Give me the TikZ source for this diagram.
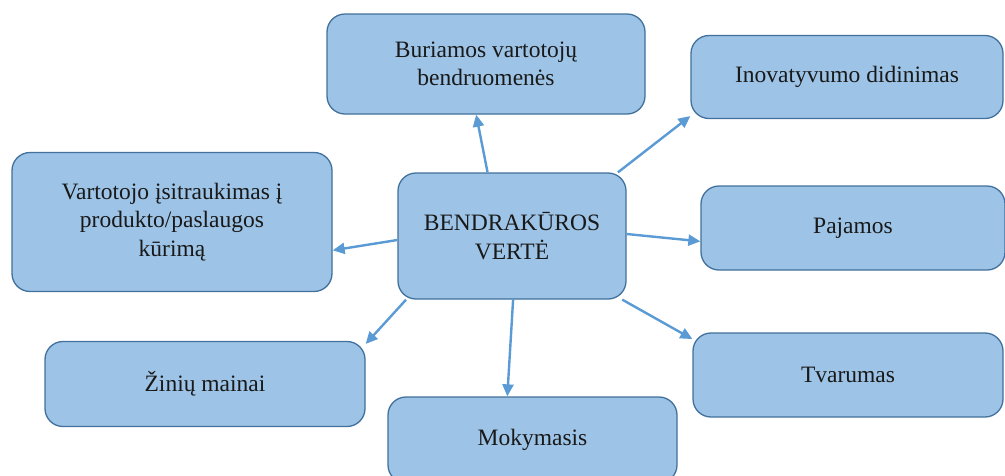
\documentclass[tikz,border=0pt]{standalone}
\usepackage{fontspec}
\setmainfont{Liberation Serif}
\usetikzlibrary{arrows.meta}
\definecolor{boxfill}{HTML}{9DC3E6}
\definecolor{boxline}{HTML}{41719C}
\definecolor{arrcol}{HTML}{5B9BD5}
\begin{document}
\begin{tikzpicture}[x=1pt,y=-1pt,
  box/.style={draw=boxline, fill=boxfill, line width=1.3pt, rounded corners=18pt,
    align=center, inner sep=0pt, font=\fontsize{23.5}{28.5}\selectfont, text=black!90},
  arr/.style={draw=arrcol, line width=2.4pt, -{Triangle[length=12pt,width=11pt]}}]
\useasboundingbox (0,0) rectangle (1005,475);
\fill[white] (0,0) rectangle (1005,475);
\node[box, minimum width=228pt, minimum height=126pt] (c) at (512,236) {BENDRAKŪROS\\VERTĖ};
\node[box, minimum width=318pt, minimum height=100pt] (b) at (486,64) {Buriamos vartotojų\\bendruomenės};
\node[box, minimum width=312pt, minimum height=83pt] (i) at (847,77) {Inovatyvumo didinimas};
\node[box, minimum width=304pt, minimum height=84pt] (p) at (853,228) {Pajamos};
\node[box, minimum width=310pt, minimum height=84pt] (t) at (848,375) {Tvarumas};
\node[box, minimum width=320pt, minimum height=139pt] (v) at (172,222) {Vartotojo įsitraukimas į\\produkto/paslaugos\\kūrimą};
\node[box, minimum width=320pt, minimum height=85pt] (z) at (205,384) {Žinių mainai};
\node[box, minimum width=289pt, minimum height=86pt] (m) at (532.5,440) {Mokymasis};
\draw[arr] (c.111) -- (b.259);
\draw[arr] (c.31.5) -- (i.194.4);
\draw[arr] (c.1) -- (p.185.6);
\draw[arr] (c.330.5) -- (t.167);
\draw[arr] (c.182.5) -- (v.350.8);
\draw[arr] (c.211.5) -- (z.14.5);
\draw[arr] (c.271) -- (m.120.7);
\end{tikzpicture}
\end{document}
